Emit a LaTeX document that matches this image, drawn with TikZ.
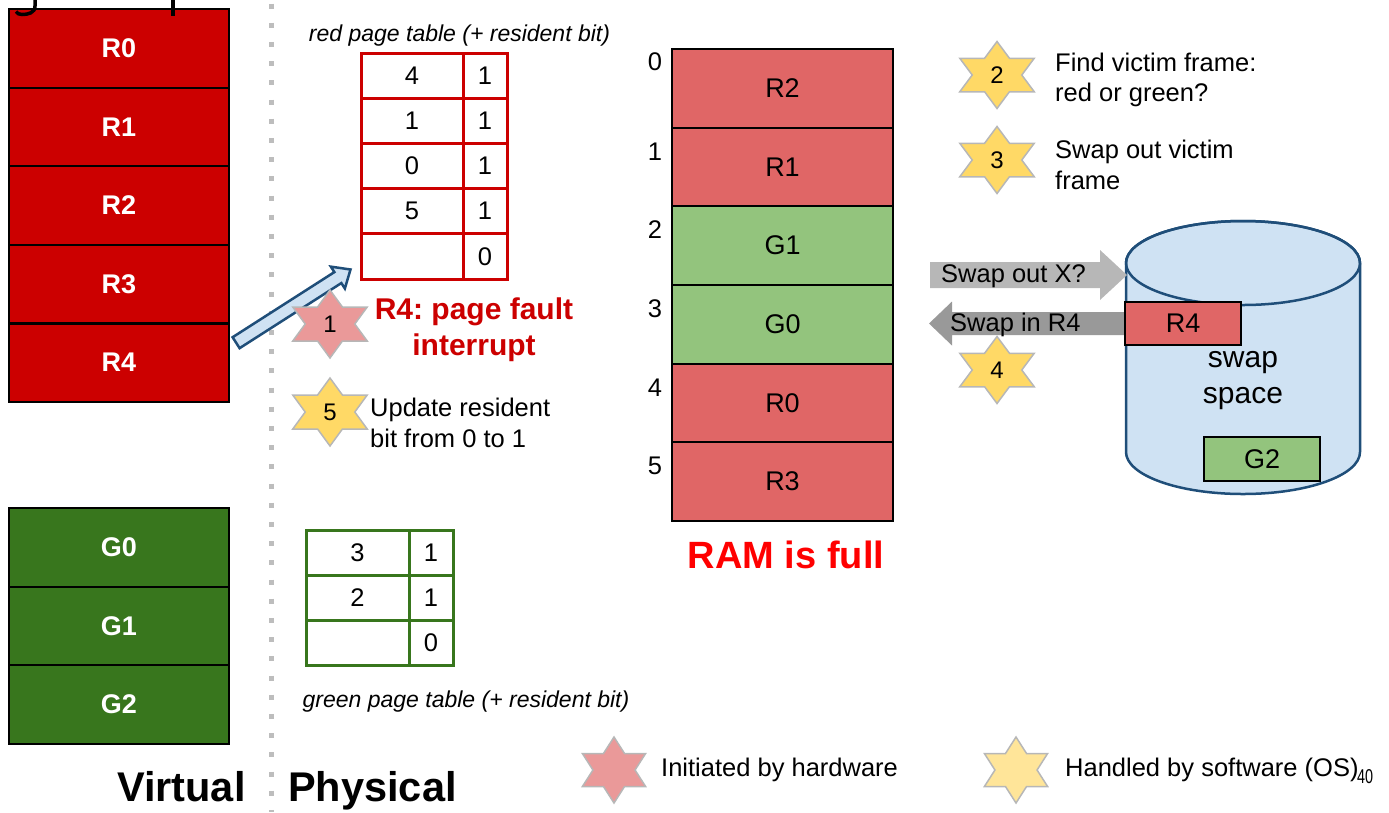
\documentclass[tikz,border=0pt]{standalone}
\usepackage{fontspec}
\setmainfont{Liberation Sans}
\usetikzlibrary{calc}
\frenchspacing

\definecolor{vred}{HTML}{CC0000}
\definecolor{vgreen}{HTML}{38761D}
\definecolor{mred}{HTML}{E06666}
\definecolor{mgreen}{HTML}{93C47D}
\definecolor{hwstar}{HTML}{EA9999}
\definecolor{osstar}{HTML}{FFD966}
\definecolor{osstarlt}{HTML}{FFE599}
\definecolor{starrim}{HTML}{B7B7B7}
\definecolor{diskfill}{HTML}{CFE2F3}
\definecolor{diskline}{HTML}{1F4E79}
\definecolor{arrowlt}{HTML}{B7B7B7}
\definecolor{arrowdk}{HTML}{999999}
\definecolor{dotgray}{HTML}{BDBDBD}
\definecolor{fullred}{HTML}{FF0000}

\newcommand\bodyfont{\fontsize{25.5}{30.6}\selectfont}

% block arrow: #1 style, #2 tail, #3 tip, #4 half shaft, #5 half head, #6 head length
\newcommand\blockarrow[6]{%
  \path ($(#3)!#6!(#2)$) coordinate (ba-base);
  \path[#1] ($(#2)!#4!90:(#3)$) -- ($(ba-base)!#4!90:(#3)$) -- ($(ba-base)!#5!90:(#3)$)
    -- (#3) -- ($(ba-base)!#5!-90:(#3)$) -- ($(ba-base)!#4!-90:(#3)$)
    -- ($(#2)!#4!-90:(#3)$) -- cycle;}

% six-pointed star: #1 centre, #2 fill, #3 x radius, #4 y radius
\newcommand\hexstar[4]{%
  \begin{scope}[shift={#1}, x=#3pt, y=#4pt]
    \filldraw[hexrim, fill=#2] (0,1) -- (0.289,0.5) -- (0.866,0.5) -- (0.577,0)
      -- (0.866,-0.5) -- (0.289,-0.5) -- (0,-1) -- (-0.289,-0.5) -- (-0.866,-0.5)
      -- (-0.577,0) -- (-0.866,0.5) -- (-0.289,0.5) -- cycle;
  \end{scope}}

\begin{document}
\begin{tikzpicture}[x=1pt, y=-1pt,
  vblock/.style={draw=black, line width=2.2pt, minimum width=220pt, minimum height=78.6pt,
    inner sep=0pt, text=white, font=\fontsize{27}{32}\selectfont\bfseries},
  ramcell/.style={draw=black, line width=2.2pt, minimum width=221pt, minimum height=78.67pt,
    inner sep=0pt, font=\fontsize{27}{32}\selectfont},
  ptcell/.style={line width=3pt, inner sep=0pt, font=\bodyfont},
  caption/.style={font=\fontsize{23}{27.6}\selectfont\itshape, anchor=base},
  note/.style={font=\bodyfont, align=left, anchor=west, inner sep=0pt},
  starnum/.style={font=\fontsize{24}{28}\selectfont, inner sep=0pt},
  hexrim/.style={draw=starrim, line width=1.5pt},
  swapblock/.style={draw=black, line width=2.2pt, minimum width=116pt, minimum height=43.5pt,
    inner sep=0pt, font=\fontsize{27}{32}\selectfont},
  bigword/.style={font=\fontsize{41.5}{48}\selectfont\bfseries, anchor=base west, inner sep=0pt}]
\useasboundingbox (0,0) rectangle (1389,812);

% divider between virtual and physical
\draw[dotgray, line width=5pt, dash pattern=on 5pt off 14.2pt] (271,3.5) -- (271,812);

% virtual pages
\foreach \lab [count=\i from 0] in {R0,R1,R2,R3,R4}
  \node[vblock, fill=vred] (vr\i) at (119, {9+78.6*(\i+0.5)}) {\lab};
\foreach \lab [count=\i from 0] in {G0,G1,G2}
  \node[vblock, fill=vgreen] (vg\i) at (119, {508+78.67*(\i+0.5)}) {\lab};
\node[bigword] (virt) at (117,801) {Virtual};
\node[bigword] (phys) at (288,801) {Physical};

% tails of the heading above the frame
\draw[line width=3.5pt] (35,0) -- (35,6) .. controls (35,13) and (28,14.5) .. (22,14.5)
  .. controls (19,14.5) and (17,13.5) .. (16,11.5);
\draw[line width=4pt] (173,0) -- (173,15.5);

% red page table
\node[caption] (rcap) at (459.5,41) {red page table (+ resident bit)};
\foreach \v/\b [count=\i] in {4/1,1/1,0/1,5/1,{}/0} {
  \node[ptcell, draw=vred, minimum width=102pt, minimum height=45.2pt] (rpa\i) at (412, {53+45.2*(\i-0.5)}) {\v};
  \node[ptcell, draw=vred, minimum width=44pt, minimum height=45.2pt] (rpb\i) at (485, {53+45.2*(\i-0.5)}) {\b};
}

% green page table
\foreach \v/\b [count=\i] in {3/1,2/1,{}/0} {
  \node[ptcell, draw=vgreen, minimum width=103pt, minimum height=45pt] (gpa\i) at (357.5, {530+45*(\i-0.5)}) {\v};
  \node[ptcell, draw=vgreen, minimum width=44pt, minimum height=45pt] (gpb\i) at (431, {530+45*(\i-0.5)}) {\b};
}
\node[caption] (gcap) at (466,707) {green page table (+ resident bit)};

% access to R4 traps into the page table
\coordinate (vr4tail) at ($(vr4.east)+(6,-20)$);
\coordinate (pttip) at ($(rpa5.south west)+(-9,-11)$);
\blockarrow{fill=diskfill, draw=diskline, line width=2.5pt}{vr4tail}{pttip}{6.5pt}{13pt}{15pt}

% step 1 and step 5
\hexstar{(330,324)}{hwstar}{43}{34}
\node[starnum] (s1) at (330,324) {1};
\node[font=\fontsize{30}{36}\selectfont\bfseries, text=vred, align=center, inner sep=0pt] (fault) at (474,330)
  {R4: page fault\\interrupt};
\hexstar{(330,412)}{osstar}{43}{34}
\node[starnum] (s5) at (330,412) {5};
\node[note] (t5) at (370,423) {Update resident\\bit from 0 to 1};

% physical frames
\foreach \lab/\col [count=\i from 0] in {R2/mred,R1/mred,G1/mgreen,G0/mgreen,R0/mred,R3/mred}
  \node[ramcell, fill=\col] (ram\i) at (782.5, {49+78.67*(\i+0.5)}) {\lab};
\foreach \i/\y in {0/62,1/152,2/230,3/309,4/388,5/466}
  \node[font=\bodyfont, inner sep=0pt] (idx\i) at (655,\y) {\i};
\node[font=\fontsize{38}{45}\selectfont\bfseries, text=fullred, anchor=base, inner sep=0pt] (full) at (786,568) {RAM is full};

% steps 2 and 3
\hexstar{(997,75)}{osstar}{43}{33.5}
\node[starnum] (s2) at (997,75) {2};
\node[note] (t2) at (1055,80) {Find victim frame:\\red or green?};
\hexstar{(997,160)}{osstar}{43}{33.5}
\node[starnum] (s3) at (997,160) {3};
\node[note] (t3) at (1055,165) {Swap out victim\\frame};

% swap space on disk
\filldraw[fill=diskfill, draw=diskline, line width=2.5pt] (1126,263) -- (1126,452)
  arc[start angle=180, end angle=360, x radius=117pt, y radius=42pt] -- (1360,263)
  arc[start angle=0, end angle=180, x radius=117pt, y radius=42pt] -- cycle;
\draw[diskline, line width=2.5pt] (1243,263) ellipse [x radius=117pt, y radius=42pt];
\node[font=\fontsize{30}{36}\selectfont, align=center, inner sep=0pt] (swaptxt) at (1243,381) {swap\\space};

% swap traffic
\coordinate (outtail) at (930,275);
\coordinate (outtip) at (1127,275);
\blockarrow{fill=arrowlt}{outtail}{outtip}{13pt}{25pt}{27pt}
\node[font=\bodyfont, anchor=west, inner sep=0pt] (outtxt) at (941,276) {Swap out X?};
\coordinate (sr4c) at (1183,323.5);
\coordinate (intip) at (929,323.5);
\blockarrow{fill=arrowdk}{sr4c}{intip}{11.5pt}{22pt}{23pt}
\node[font=\bodyfont, anchor=west, inner sep=0pt] (intxt) at (950,325) {Swap in R4};
\node[swapblock, fill=mred] (sr4) at (sr4c) {R4};
\node[swapblock, fill=mgreen] (sg2) at (1262,459) {G2};
\hexstar{(997,370)}{osstar}{43}{33.5}
\node[starnum] (s4) at (997,370) {4};

% legend
\hexstar{(614,770)}{hwstar}{36.5}{33}
\node[note] (lhw) at (661,770) {Initiated by hardware};
\hexstar{(1016,770)}{osstarlt}{36.5}{33}
\node[note] (los) at (1065,770) {Handled by software (OS)};
\node[font=\fontsize{20}{24}\selectfont, xscale=0.72, inner sep=0pt] (pg) at (1365,777) {40};
\end{tikzpicture}
\end{document}
